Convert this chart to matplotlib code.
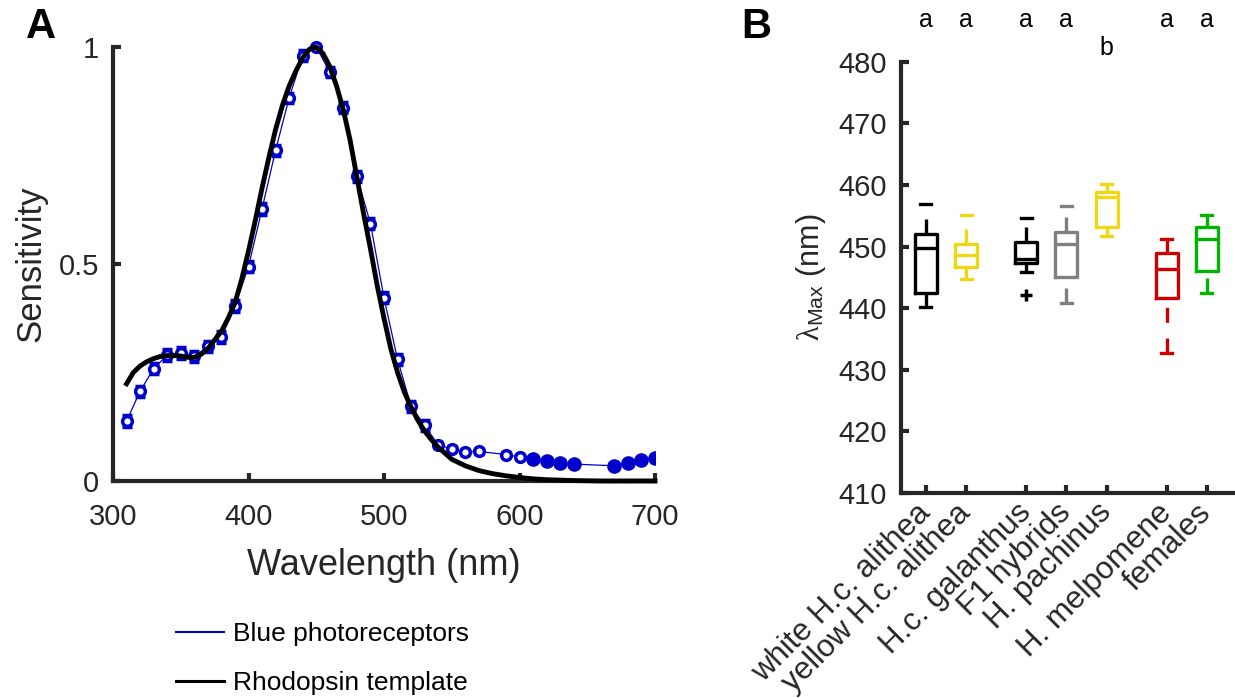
import matplotlib
matplotlib.use('Agg')
import matplotlib.pyplot as plt
from matplotlib.lines import Line2D

plt.rcParams['font.family'] = ['Liberation Sans', 'DejaVu Sans']
plt.rcParams['mathtext.fontset'] = 'custom'
plt.rcParams['mathtext.rm'] = 'Liberation Serif'
plt.rcParams['mathtext.it'] = 'Liberation Serif:italic'
plt.rcParams['mathtext.sf'] = 'Liberation Sans'

# ---- panel A data ----
wl_open = [310, 320, 330, 340, 350, 360, 370, 380, 390, 400, 410, 420, 430, 440, 450,
           460, 470, 480, 490, 500, 510, 520, 530, 540, 550, 560, 570, 590, 600]
sens_open = [0.138, 0.207, 0.259, 0.290, 0.295, 0.287, 0.310, 0.331, 0.403, 0.494, 0.627,
             0.762, 0.883, 0.980, 1.000, 0.942, 0.860, 0.702, 0.593, 0.422, 0.280, 0.172,
             0.128, 0.083, 0.074, 0.067, 0.068, 0.061, 0.055]
err_open = [0.013, 0.013, 0.013, 0.014, 0.013, 0.013, 0.013, 0.014, 0.013, 0.013, 0.013,
            0.013, 0.012, 0.012, 0.0, 0.012, 0.013, 0.013, 0.013, 0.013, 0.013, 0.013,
            0.013, 0.007, 0.006, 0.006, 0.006, 0.005, 0.005]
wl_fill = [610, 620, 630, 640, 670, 680, 690, 700]
sens_fill = [0.050, 0.046, 0.042, 0.039, 0.035, 0.042, 0.048, 0.054]
err_fill = [0.004, 0.004, 0.004, 0.004, 0.004, 0.004, 0.004, 0.004]

wl_template = [310, 315, 320, 325, 330, 335, 340, 345, 350, 355, 360, 365, 370, 375, 380,
               385, 390, 395, 400, 405, 410, 415, 420, 425, 430, 435, 440, 445, 450, 455,
               460, 465, 470, 475, 480, 485, 490, 495, 500, 505, 510, 515, 520, 525, 530,
               535, 540, 550, 560, 570, 580, 590, 600, 610, 620, 640, 660, 700]
template = [0.224, 0.250, 0.265, 0.275, 0.282, 0.287, 0.289, 0.289, 0.288, 0.285, 0.285,
            0.292, 0.305, 0.325, 0.345, 0.375, 0.410, 0.465, 0.530, 0.600, 0.675, 0.745,
            0.810, 0.865, 0.910, 0.945, 0.975, 0.995, 1.000, 0.985, 0.955, 0.910, 0.855,
            0.785, 0.700, 0.615, 0.535, 0.450, 0.375, 0.305, 0.250, 0.205, 0.170, 0.140,
            0.115, 0.095, 0.078, 0.050, 0.035, 0.024, 0.017, 0.012, 0.008, 0.005, 0.003,
            0.001, 0.0, 0.0]

# ---- panel B data ----
groups = ['white H.c. alithea', 'yellow H.c. alithea', 'H.c. galanthus', 'F1 hybrids',
          'H. pachinus', 'H. melpomene', 'females']
group_pos = [1, 2, 3.5, 4.5, 5.5, 7, 8]
group_colors = ['black', '#F0D714', 'black', '#808080', '#F0D714', '#CC0000', '#00B400']
q1 = [442.5, 446.7, 447.3, 445.0, 453.2, 441.7, 446.1]
med = [449.7, 448.7, 448.0, 450.4, 458.1, 446.4, 451.2]
q3 = [452.0, 450.4, 450.8, 452.4, 458.9, 448.9, 453.2]
whislo = [440.2, 444.7, 445.9, 440.8, 451.7, 432.7, 442.5]
whishi = [456.9, 455.2, 454.7, 456.5, 460.2, 451.2, 455.1]
outliers = [[], [], [442.1], [], [], [], []]
letters = ['a', 'a', 'a', 'a', 'b', 'a', 'a']

blue = '#0000CC'
axcol = '#262626'

fig = plt.figure(figsize=(12.35, 6.98), dpi=100)

# ---------------- Panel A ----------------
axA = fig.add_axes([113/1235, 1 - 481/698, 542/1235, 434/698])
axA.set_facecolor('none')
axA.plot(wl_open + wl_fill, sens_open + sens_fill, color=blue, lw=0.9, zorder=2)
axA.errorbar(wl_open, sens_open, yerr=err_open, fmt='o', ms=7, mfc='white', mec=blue,
             mew=2.5, ecolor=blue, elinewidth=2.2, capsize=3.8, capthick=2.6, zorder=3,
             clip_on=False)
axA.errorbar(wl_fill, sens_fill, yerr=err_fill, fmt='o', ms=9.5, mfc=blue, mec=blue,
             ecolor=blue, elinewidth=2, capsize=3.8, capthick=2.6, zorder=3)
axA.plot(wl_template, template, color='black', lw=3.5, zorder=4, clip_on=False)

axA.set_xlim(300, 700)
axA.set_ylim(0, 1)
axA.set_xticks([300, 400, 500, 600, 700])
axA.set_yticks([0, 0.5, 1])
axA.set_yticklabels(['0', '0.5', '1'])
for s in ['top', 'right']:
    axA.spines[s].set_visible(False)
for s in ['left', 'bottom']:
    axA.spines[s].set_linewidth(3)
    axA.spines[s].set_color(axcol)
axA.tick_params(direction='in', length=6, width=3, color=axcol, labelcolor=axcol,
                labelsize=21, pad=10)
axA.tick_params(axis='x', pad=16)
axA.set_xlabel('Wavelength (nm)', fontsize=26, color=axcol, labelpad=12)
axA.set_ylabel('Sensitivity', fontsize=25, color=axcol, labelpad=8)

handles = [Line2D([], [], color=blue, lw=1.5), Line2D([], [], color='black', lw=2.2)]
fig.legend(handles, ['Blue photoreceptors', 'Rhodopsin template'], loc='center left',
           bbox_to_anchor=(176/1235, 1 - 658.5/698), frameon=False, fontsize=19,
           handlelength=1.8, handletextpad=0.35, labelspacing=0.95, borderpad=0,
           borderaxespad=0)

# ---------------- Panel B ----------------
axB = fig.add_axes([901/1235, 1 - 493/698, 332/1235, 431.3/698])
axB.set_facecolor('none')
stats = []
for i in range(len(groups)):
    stats.append(dict(q1=q1[i], med=med[i], q3=q3[i], whislo=whislo[i],
                      whishi=whishi[i], fliers=outliers[i]))
bp = axB.bxp(stats, positions=group_pos, widths=0.55, showcaps=True, showfliers=True)
for i, c in enumerate(group_colors):
    bp['boxes'][i].set(color=c, lw=2.4)
    bp['medians'][i].set(color=c, lw=2.4)
    bp['caps'][2*i].set(color=c, lw=2.4)
    bp['caps'][2*i + 1].set(color=c, lw=2.4)
    bp['fliers'][i].set(marker='+', markeredgecolor=c, markersize=8, markeredgewidth=2.5)
    for j in (2*i, 2*i + 1):
        w = bp['whiskers'][j]
        w.set(color=c, lw=2.4, linestyle=(0, (4.5, 4.7)))
    # dashes start from the low end for the lower whisker too
    lo = bp['whiskers'][2*i]
    lo.set_ydata(lo.get_ydata()[::-1])

for p, t in zip(group_pos, letters):
    ty = 486.8 if t == 'a' else 482.2
    axB.text(p, ty, t, ha='center', va='center', fontsize=18, clip_on=False)

axB.set_xlim(0.38, 8.65)
axB.set_ylim(410, 480)
axB.set_yticks(range(410, 481, 10))
axB.set_xticks(group_pos)
axB.set_xticklabels(groups, rotation=45, ha='right', va='center', rotation_mode='anchor')
for s in ['top', 'right']:
    axB.spines[s].set_visible(False)
for s in ['left', 'bottom']:
    axB.spines[s].set_linewidth(3)
    axB.spines[s].set_color(axcol)
axB.tick_params(direction='in', length=6, width=3, color=axcol, labelcolor=axcol,
                labelsize=21, pad=10)
axB.tick_params(axis='x', labelsize=22.5, pad=11)
axB.set_ylabel(r'$\mathrm{\lambda}_{\mathsf{Max}}$ (nm)', fontsize=22, color=axcol,
               labelpad=8)

fig.text(41/1235, 1 - 27/698, 'A', fontsize=30, fontweight='bold', ha='center', va='center')
fig.text(756/1235, 1 - 27/698, 'B', fontsize=30, fontweight='bold', ha='center', va='center')

fig.savefig('out.png', dpi=100)
